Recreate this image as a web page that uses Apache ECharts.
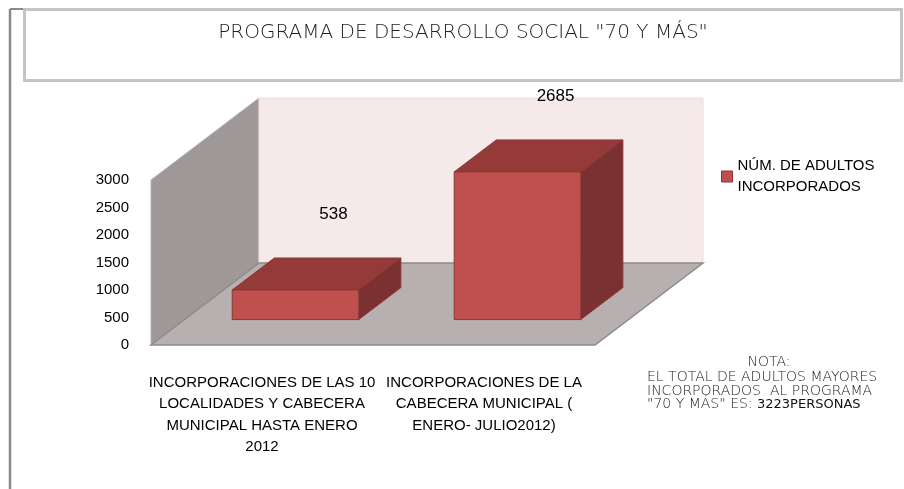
<!DOCTYPE html>
<html>
<head>
<meta charset="utf-8">
<script src="https://cdn.jsdelivr.net/npm/echarts@6/dist/echarts.min.js"></script>
<style>
  html, body { margin: 0; padding: 0; background: #fff; }
  #chart { width: 904px; height: 489px; }
</style>
</head>
<body>
<div id="chart"></div>
<script>
const categories = [
  'INCORPORACIONES DE LAS 10\nLOCALIDADES Y CABECERA\nMUNICIPAL HASTA ENERO\n2012',
  'INCORPORACIONES DE LA\nCABECERA MUNICIPAL (\nENERO- JULIO2012)'
]
const adultos = [538, 2685]
const seriesName = 'NÚM. DE ADULTOS INCORPORADOS'
const yTicks = { min: 0, max: 3000, interval: 500 }

// 3D look: depth of the floor and the part of it the bars use
const depth = [108, -82]
const barFront = 0.31
const barBack = 0.70
const barShare = 0.57

const font = 'Liberation Sans'
const thinFont = 'DejaVu Sans'

const chart = echarts.init(document.getElementById('chart'))

const renderWalls = (params, api) => {
  const cs = params.coordSys
  const x0 = cs.x, x1 = cs.x + cs.width
  const yb = cs.y + cs.height, yt = cs.y
  const dx = depth[0], dy = depth[1]
  return {
    type: 'group',
    children: [
      {
        type: 'polygon',
        shape: { points: [[x0, yb], [x0, yt], [x0 + dx, yt + dy], [x0 + dx, yb + dy]] },
        style: { fill: '#9e9898', stroke: '#b5b0b0', lineWidth: 1 }
      },
      {
        type: 'polygon',
        shape: { points: [[x0 + dx, yt + dy], [x1 + dx, yt + dy], [x1 + dx, yb + dy], [x0 + dx, yb + dy]] },
        style: { fill: '#f5e9ea', stroke: '#eedcdd', lineWidth: 1 }
      },
      {
        type: 'polygon',
        shape: { points: [[x0, yb], [x1, yb], [x1 + dx, yb + dy], [x0 + dx, yb + dy]] },
        style: { fill: '#b8b0b0', stroke: '#8e8a8a', lineWidth: 1.5 }
      }
    ]
  }
}

const renderBox = (params, api) => {
  const idx = api.value(0)
  const val = api.value(1)
  const base = api.coord([idx, 0])
  const top = api.coord([idx, val])
  const band = api.size([1, 0])[0]
  const w = band * barShare
  const fx = depth[0] * barFront, fy = depth[1] * barFront
  const bx = depth[0] * (barBack - barFront), by = depth[1] * (barBack - barFront)
  const l = base[0] - w / 2 + fx, r = base[0] + w / 2 + fx
  const t = top[1] + fy, b = base[1] + fy
  const edge = '#8b3634'
  return {
    type: 'group',
    children: [
      {
        type: 'polygon',
        shape: { points: [[r, t], [r + bx, t + by], [r + bx, b + by], [r, b]] },
        style: { fill: '#7b3131', stroke: edge, lineWidth: 1 }
      },
      {
        type: 'polygon',
        shape: { points: [[l, t], [l + bx, t + by], [r + bx, t + by], [r, t]] },
        style: { fill: '#943a38', stroke: edge, lineWidth: 1 }
      },
      {
        type: 'rect',
        shape: { x: l, y: t, width: r - l, height: b - t },
        style: { fill: '#c0504d', stroke: edge, lineWidth: 1 }
      },
      {
        type: 'text',
        x: (l + r) / 2 + bx / 2 + 17,
        y: t + by / 2 - 60,
        style: {
          text: String(val),
          fill: '#000',
          font: '17px "' + font + '"',
          align: 'center',
          verticalAlign: 'middle'
        }
      }
    ]
  }
}

const option = {
  animation: false,
  grid: { left: 151, top: 180, width: 444, height: 165 },
  legend: {
    left: 716,
    top: 140,
    icon: 'rect',
    itemWidth: 11,
    itemHeight: 11,
    itemGap: 0,
    data: [{ name: seriesName, itemStyle: { color: '#c0504d', borderColor: '#8b3634', borderWidth: 1 } }],
    formatter: () => 'NÚM. DE ADULTOS\nINCORPORADOS',
    textStyle: {
      fontFamily: font,
      fontSize: 15,
      color: '#000',
      lineHeight: 21,
      padding: [21, 0, 0, 0]
    }
  },
  xAxis: {
    type: 'category',
    data: categories,
    axisLine: { show: false },
    axisTick: { show: false },
    axisLabel: {
      interval: 0,
      margin: 27,
      fontFamily: font,
      fontSize: 15,
      lineHeight: 21.5,
      color: '#000',
      align: 'center'
    }
  },
  yAxis: {
    type: 'value',
    min: yTicks.min,
    max: yTicks.max,
    interval: yTicks.interval,
    splitLine: { show: false },
    axisLine: { show: false },
    axisTick: { show: false },
    axisLabel: { margin: 22, fontFamily: font, fontSize: 15, color: '#000', formatter: v => String(v) }
  },
  series: [
    {
      type: 'custom',
      name: 'walls',
      silent: true,
      renderItem: renderWalls,
      data: [[0, 0]],
      z: 1
    },
    {
      type: 'custom',
      name: seriesName,
      itemStyle: { color: '#c0504d' },
      renderItem: renderBox,
      data: adultos.map((v, i) => [i, v]),
      z: 2
    }
  ],
  graphic: [
    {
      type: 'line',
      shape: { x1: 10, y1: 9, x2: 10, y2: 489 },
      style: { stroke: '#8a8a8a', lineWidth: 2.5 }
    },
    {
      type: 'line',
      shape: { x1: 10, y1: 9, x2: 24, y2: 9 },
      style: { stroke: '#8a8a8a', lineWidth: 2 }
    },
    {
      type: 'rect',
      shape: { x: 24.5, y: 9.5, width: 877, height: 71 },
      style: { fill: '#fff', stroke: '#c4c4c4', lineWidth: 3 }
    },
    {
      type: 'text',
      x: 463,
      y: 33,
      style: {
        text: 'PROGRAMA DE DESARROLLO SOCIAL "70 Y MÁS"',
        font: '200 20px "' + thinFont + '"',
        fill: '#222',
        align: 'center',
        verticalAlign: 'middle'
      }
    },
    {
      type: 'text',
      x: 769,
      y: 362,
      style: {
        text: 'NOTA:',
        font: '200 14px "' + thinFont + '"',
        fill: '#222',
        align: 'center',
        verticalAlign: 'middle'
      }
    },
    {
      type: 'text',
      x: 647,
      y: 371,
      style: {
        text: 'EL TOTAL DE ADULTOS MAYORES\nINCORPORADOS  AL PROGRAMA\n"70 Y MÁS" ES: {b|3223PERSONAS}',
        font: '200 14px "' + thinFont + '"',
        lineHeight: 13.5,
        fill: '#222',
        align: 'left',
        verticalAlign: 'top',
        rich: { b: { fontFamily: thinFont, fontSize: 13, fontWeight: 400, fill: '#111', lineHeight: 13.5 } }
      }
    }
  ]
}

chart.setOption(option)
</script>
</body>
</html>
